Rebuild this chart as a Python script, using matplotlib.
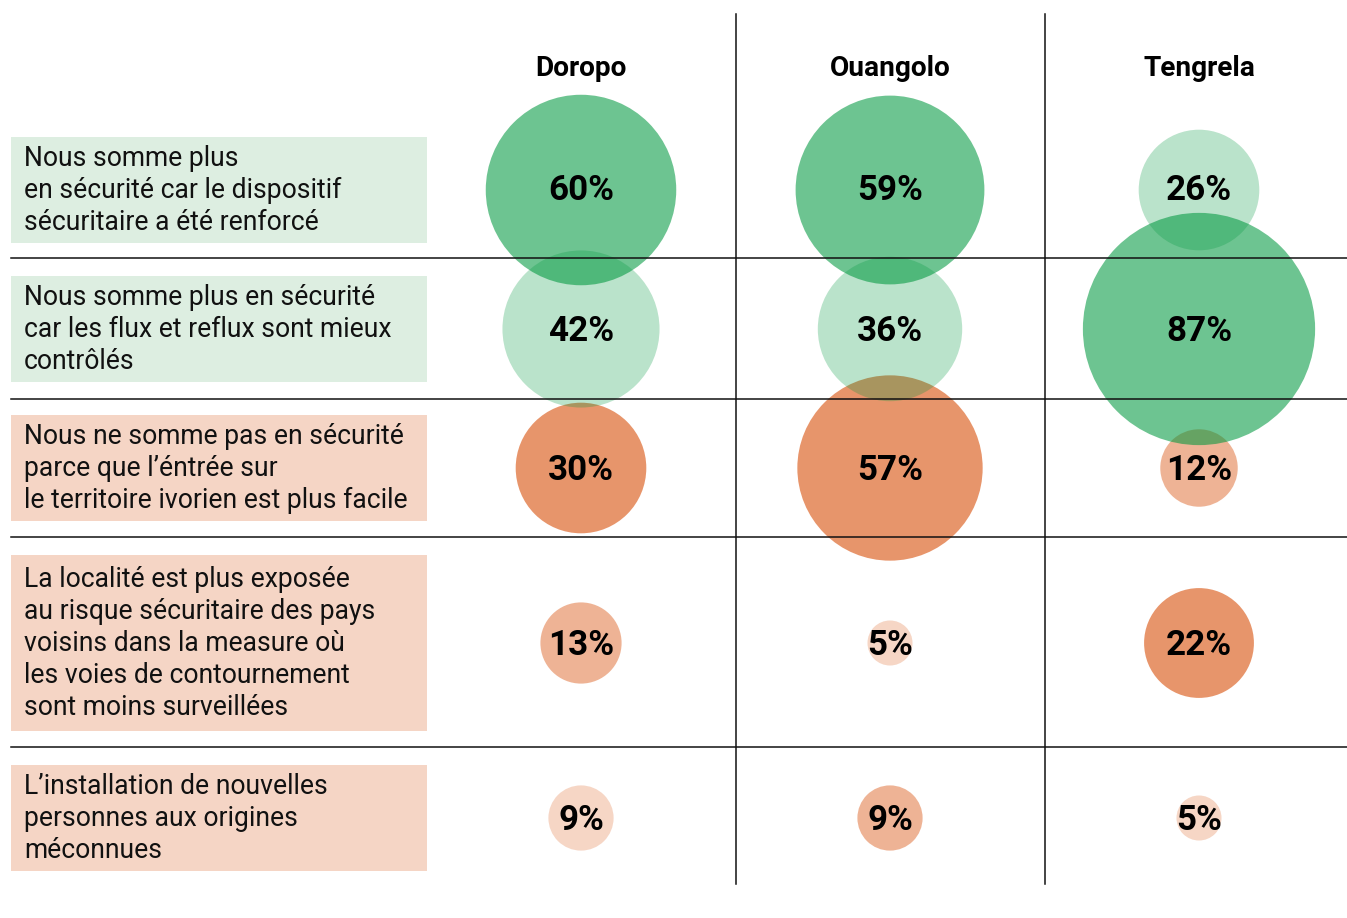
import matplotlib.pyplot as plt
from matplotlib.patches import Circle, Rectangle

# ---- data ----
cities = ["Doropo", "Ouangolo", "Tengrela"]
statements = [
    "Nous somme plus\nen sécurité car le dispositif\nsécuritaire a été renforcé",
    "Nous somme plus en sécurité\ncar les flux et reflux sont mieux\ncontrôlés",
    "Nous ne somme pas en sécurité\nparce que l’éntrée sur\nle territoire ivorien est plus facile",
    "La localité est plus exposée\nau risque sécuritaire des pays\nvoisins dans la measure où\nles voies de contournement\nsont moins surveillées",
    "L’installation de nouvelles\npersonnes aux origines\nméconnues",
]
sentiment = ["pos", "pos", "neg", "neg", "neg"]
doropo = [60, 42, 30, 13, 9]
ouangolo = [59, 36, 57, 5, 9]
tengrela = [26, 87, 12, 22, 5]
# shade of each bubble (0 light, 1 mid, 2 dark)
doropo_shade = [2, 1, 2, 1, 0]
ouangolo_shade = [2, 1, 2, 0, 1]
tengrela_shade = [1, 2, 1, 2, 0]

values = [doropo, ouangolo, tengrela]
shades = [doropo_shade, ouangolo_shade, tengrela_shade]

# ---- layout (pixels) ----
W, H = 1347, 918
PX = 0.72  # px -> pt at dpi 100
col_x0, col_dx = 581, 309
row_y = [190, 329, 468, 643, 818]
box_h = [106, 106, 106, 176, 106]
row_lines = [258, 399, 537, 747]
box_x0, box_x1 = 11, 427
line_gap = 32

green = (0.004, 0.596, 0.247)
orange = (0.871, 0.408, 0.173)
alpha_green = {0: 0.27, 1: 0.27, 2: 0.574}
alpha_orange = {0: 0.27, 1: 0.5, 2: 0.7}
box_color = {"pos": "#ddeee1", "neg": "#f5d5c5"}

font = "Roboto"


def radius(v):
    # area-like scale, pixels
    return 13.2 * v ** 0.5 - 7


fig = plt.figure(figsize=(W / 100, H / 100), dpi=100)
ax = fig.add_axes([0, 0, 1, 1])
ax.set_xlim(0, W)
ax.set_ylim(H, 0)
ax.axis("off")

# label boxes
for i, (txt, s) in enumerate(zip(statements, sentiment)):
    yc = row_y[i]
    ax.add_patch(Rectangle((box_x0, yc - box_h[i] / 2), box_x1 - box_x0, box_h[i],
                           facecolor=box_color[s], edgecolor="none", zorder=1))
    lines = txt.split("\n")
    n = len(lines)
    for k, ln in enumerate(lines):
        yb = yc + 8 + (k - (n - 1) / 2) * line_gap
        ax.text(24, yb, ln, fontsize=26.5 * PX, family=font, color="#111111",
                ha="left", va="baseline", zorder=5)

# bubbles: orange first, green on top
for pass_s in ["neg", "pos"]:
    for c in range(len(cities)):
        xc = col_x0 + c * col_dx
        for i, v in enumerate(values[c]):
            if sentiment[i] != pass_s:
                continue
            if pass_s == "pos":
                col, a = green, alpha_green[shades[c][i]]
            else:
                col, a = orange, alpha_orange[shades[c][i]]
            ax.add_patch(Circle((xc, row_y[i]), radius(v), facecolor=col,
                                edgecolor="none", alpha=a, zorder=2))

# grid lines
for y in row_lines:
    ax.plot([box_x0, W], [y, y], color="#111111", lw=1.1, zorder=3)
for c in range(len(cities) - 1):
    x = col_x0 + c * col_dx + col_dx / 2
    ax.plot([x, x], [14, 884], color="#111111", lw=1.1, zorder=3)

# headers and percentages
for c, city in enumerate(cities):
    xc = col_x0 + c * col_dx
    ax.text(xc, 76, city, fontsize=28 * PX, family=font, fontweight="bold",
            ha="center", va="baseline", color="black", zorder=5)
    for i, v in enumerate(values[c]):
        ax.text(xc, row_y[i] - (2 if i == 0 else 0) + 12, f"{v}%", fontsize=35 * PX,
                family=font, fontweight="bold", ha="center", va="baseline",
                color="black", zorder=5)

fig.savefig("out.png", dpi=100)
